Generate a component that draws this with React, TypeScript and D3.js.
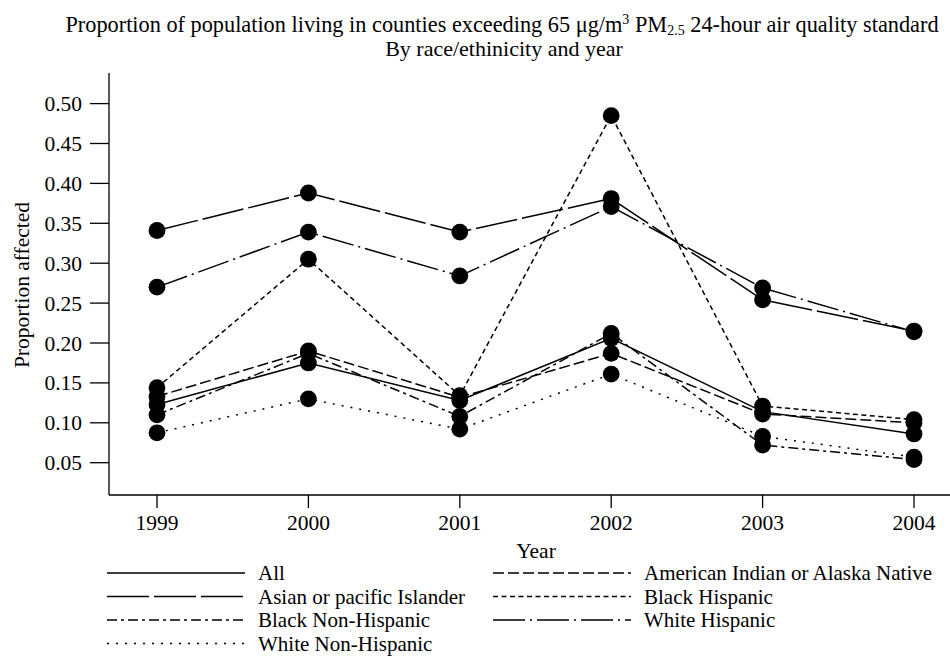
import React from "react";
import * as d3 from "d3";

const years = [1999, 2000, 2001, 2002, 2003, 2004];
const yTicks = [0.05, 0.1, 0.15, 0.2, 0.25, 0.3, 0.35, 0.4, 0.45, 0.5];

const seriesNames = [
  "All",
  "American Indian or Alaska Native",
  "Asian or pacific Islander",
  "Black Hispanic",
  "Black Non-Hispanic",
  "White Hispanic",
  "White Non-Hispanic",
];

const allValues = [0.123, 0.175, 0.128, 0.206, 0.114, 0.086];
const amIndianValues = [0.133, 0.19, 0.132, 0.187, 0.111, 0.1];
const asianValues = [0.341, 0.388, 0.339, 0.381, 0.254, 0.215];
const blackHispValues = [0.144, 0.305, 0.134, 0.485, 0.121, 0.104];
const blackNonHispValues = [0.11, 0.187, 0.108, 0.212, 0.072, 0.054];
const whiteHispValues = [0.27, 0.339, 0.284, 0.371, 0.269, 0.214];
const whiteNonHispValues = [0.0875, 0.13, 0.092, 0.161, 0.083, 0.057];

const seriesValues = [
  allValues,
  amIndianValues,
  asianValues,
  blackHispValues,
  blackNonHispValues,
  whiteHispValues,
  whiteNonHispValues,
];

const dashes = ["none", "11,4", "42,5", "5,3.5", "10,4,3,4", "32,5,2,5", "2,7"];

// legend layout: [column, row]
const legendPos = [
  [0, 0],
  [1, 0],
  [0, 1],
  [1, 1],
  [0, 2],
  [1, 2],
  [0, 3],
];

export default function App() {
  const W = 950;
  const H = 657;
  const x = d3.scaleLinear().domain([1999, 2004]).range([157, 914]);
  const y = d3.scaleLinear().domain([0.05, 0.5]).range([462.7, 103.6]);
  const line = d3
    .line<number>()
    .x((_, i) => x(years[i]))
    .y((d) => y(d));
  const font = "'Liberation Serif', 'Times New Roman', serif";
  const axisLeft = 109;
  const axisBottom = 495;

  return (
    <svg
      width={W}
      height={H}
      style={{ position: "absolute", left: 0, top: 0, background: "#fff" }}
      fontFamily={font}
    >
      <rect x={0} y={0} width={W} height={H} fill="#fff" />
      {/* title */}
      <text x={502} y={32} textAnchor="middle" fontSize={22.3}>
        Proportion of population living in counties exceeding 65 μg/m
        <tspan fontSize={14} dy={-8}>3</tspan>
        <tspan dy={8}> PM</tspan>
        <tspan fontSize={14} dy={3}>2.5</tspan>
        <tspan dy={-3}> 24-hour air quality standard</tspan>
      </text>
      <text x={504} y={56} textAnchor="middle" fontSize={22}>
        By race/ethinicity and year
      </text>

      {/* axes */}
      <line x1={axisLeft} x2={axisLeft} y1={73} y2={axisBottom} stroke="#000" strokeWidth={1.3} />
      <line x1={axisLeft} x2={W} y1={axisBottom} y2={axisBottom} stroke="#000" strokeWidth={1.3} />
      {yTicks.map((t) => (
        <g key={t}>
          <line x1={90} x2={axisLeft} y1={y(t)} y2={y(t)} stroke="#000" strokeWidth={1.3} />
          <text x={82} y={y(t)} dy="0.35em" textAnchor="end" fontSize={21.5}>
            {d3.format(".2f")(t)}
          </text>
        </g>
      ))}
      {years.map((yr) => (
        <g key={yr}>
          <line x1={x(yr)} x2={x(yr)} y1={axisBottom} y2={508} stroke="#000" strokeWidth={1.3} />
          <text x={x(yr)} y={530} textAnchor="middle" fontSize={21.5}>
            {yr}
          </text>
        </g>
      ))}
      <text x={536} y={558} textAnchor="middle" fontSize={21.5}>
        Year
      </text>
      <text
        transform={`translate(29,285) rotate(-90)`}
        textAnchor="middle"
        fontSize={21.5}
      >
        Proportion affected
      </text>

      {/* lines */}
      {seriesValues.map((vals, i) => (
        <path
          key={"l" + i}
          d={line(vals) || ""}
          fill="none"
          stroke="#000"
          strokeWidth={1.5}
          strokeDasharray={dashes[i]}
        />
      ))}
      {/* markers */}
      {seriesValues.map((vals, i) =>
        vals.map((v, j) => (
          <circle key={`c${i}-${j}`} cx={x(years[j])} cy={y(v)} r={8.4} fill="#000" />
        ))
      )}

      {/* legend */}
      {seriesNames.map((name, i) => {
        const [col, row] = legendPos[i];
        const lx = col === 0 ? 107 : 493;
        const ly = 573 + row * 23.5;
        return (
          <g key={"lg" + i}>
            <line
              x1={lx}
              x2={lx + 138}
              y1={ly}
              y2={ly}
              stroke="#000"
              strokeWidth={1.5}
              strokeDasharray={dashes[i]}
            />
            <text x={lx + 151} y={ly} dy="0.35em" fontSize={21}>
              {name}
            </text>
          </g>
        );
      })}
    </svg>
  );
}
